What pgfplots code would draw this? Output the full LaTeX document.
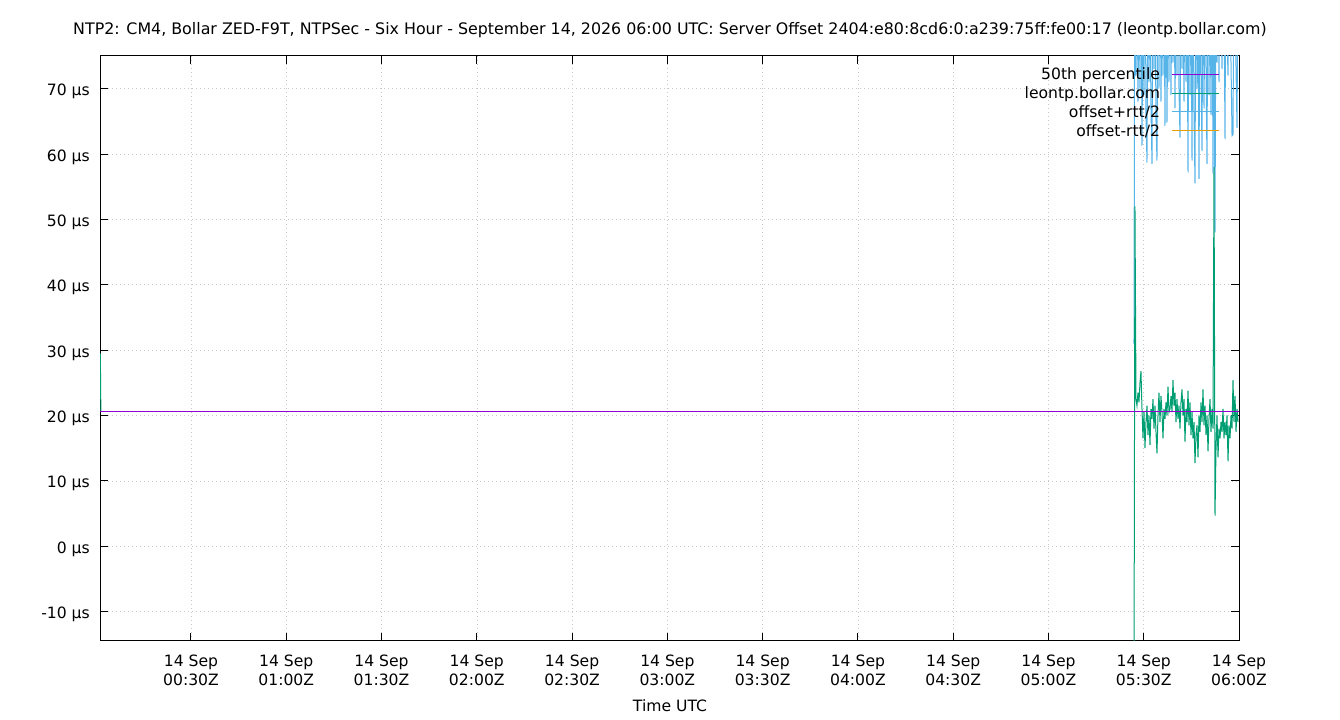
\documentclass[border=0pt]{standalone}
\usepackage{fontspec}
\setmainfont{DejaVu Sans}
\usepackage{pgfplots}
\usepackage{pgfplotstable}
\pgfplotsset{compat=1.18}
\definecolor{cpurple}{HTML}{9400D3}
\definecolor{cgreen}{HTML}{009E73}
\definecolor{cblue}{HTML}{56B4E9}
\definecolor{corange}{HTML}{E69F00}
\definecolor{cgrid}{HTML}{C8C8C8}

\pgfplotstableread{
t g p m
326.93 -22 31 -75
327.24 52 110 -38
327.56 22.5 72 -27
327.87 21.5 95 -52
328.19 23.5 68 -21
328.50 22 88 -44
328.82 25 70 -20
329.13 26.8 92 -38
329.45 21 61.3 -19
329.76 16.5 85 -52
330.08 20.5 69 -28
330.39 15 98 -68
330.71 19 66 -28
331.02 21.5 58.7 -16
331.34 17 90 -56
331.65 20 71 -31
331.97 15.5 84 -53
332.28 21 67 -25
332.60 19.5 58.5 -19.5
332.91 22.5 94 -49
333.23 18 73 -37
333.54 21.5 87 -44
333.86 17.5 65 -30
334.17 14.2 59 -31
334.49 20 91 -51
334.80 23.5 70 -23
335.12 19 96 -58
335.43 23 68 -22
335.75 20.5 83 -42
336.06 16.5 72 -39
336.38 21 89 -47
336.69 19.5 64.3 -25
337.01 22 93 -49
337.32 20 64.8 -25
337.64 24.4 86 -37
337.95 20.5 71 -30
338.27 21 97 -55
338.58 23 69 -23
338.90 20.5 88 -47
339.21 25.4 74 -23
339.53 21.5 92 -49
339.84 23.5 67 -20
340.16 19 85 -47
340.47 22.5 72 -27
340.79 19.5 95 -56
341.10 21.5 70 -27
341.42 18 62.5 -26
341.73 22 90 -46
342.05 24 73 -25
342.36 20 84 -44
342.68 22.5 68 -23
342.99 16 93 -61
343.31 21 71 -29
343.62 19 87 -49
343.94 23.8 57.2 -18
344.25 18.5 96 -59
344.57 22 69 -25
344.88 17 88 -54
345.20 20.5 59 -18
345.51 16.5 91 -58
345.83 19 66 -28
346.14 12.7 55.5 -30
346.46 17 94 -60
346.77 18.5 70 -33
347.09 13.6 85 -58
347.40 20 56.2 -16
347.72 17.5 89 -54
348.03 22 72 -28
348.35 19 60.5 -22.5
348.66 24 92 -44
348.98 18.5 67 -30
349.29 21.5 86 -43
349.61 17 73 -39
349.92 20 58.5 -18.5
350.24 14.5 95 -66
350.55 19.5 69 -30
350.87 22.5 88 -43
351.18 17.5 66 -31
351.50 21 91 -49
351.81 18 57 -21
352.13 58 85 -30
352.44 4.7 48 -38.6
352.76 15 90 -60
353.07 20 74 -34
353.39 13.6 97 -70
353.70 18 71 -35
354.02 16.5 89 -56
354.33 19 80 -42
354.65 17.5 73 -38
354.96 21 93 -51
355.28 16.5 84 -51
355.59 19 62.3 -24
355.91 17 96 -62
356.22 20 78 -38
356.54 13 72 -46
356.85 18.5 90 -53
357.17 16.5 82 -49
357.48 20 74 -34
357.80 18 62.8 -27
358.11 25.4 63 -16
358.43 19 92 -54
358.74 23 85 -39
359.06 17.5 73 -38
359.37 21 64 -22
359.69 19 88 -50
}\datatab

\begin{document}
\fontsize{15.6bp}{19bp}\selectfont
\begin{tikzpicture}
\useasboundingbox (0,0) rectangle (1340bp,720bp);
\begin{axis}[
  at={(100bp,79bp)}, anchor=south west,
  scale only axis, width=1139bp, height=585bp,
  xmin=1.35, xmax=360, ymin=-14.5, ymax=75,
  axis line style={line width=1bp, black},
  tick align=inside, tick pos=both,
  major tick length=8bp,
  every tick/.style={black, line width=1bp},
  xtick={30,60,90,120,150,180,210,240,270,300,330,360},
  xticklabels={{14 Sep\\00:30Z},{14 Sep\\01:00Z},{14 Sep\\01:30Z},{14 Sep\\02:00Z},{14 Sep\\02:30Z},{14 Sep\\03:00Z},{14 Sep\\03:30Z},{14 Sep\\04:00Z},{14 Sep\\04:30Z},{14 Sep\\05:00Z},{14 Sep\\05:30Z},{14 Sep\\06:00Z}},
  xticklabel style={align=center, anchor=north, inner sep=0pt, yshift=-14bp},
  ytick={-10,0,10,20,30,40,50,60,70},
  yticklabels={-10 µs,0 µs,10 µs,20 µs,30 µs,40 µs,50 µs,60 µs,70 µs},
  yticklabel style={anchor=base east, inner sep=0pt, xshift=-10bp, yshift=-7bp},
  grid=major,
  major grid style={cgrid, line width=0.6bp, dash pattern=on 1bp off 3bp},
  legend plot pos=right,
  legend cell align=right,
  legend image code/.code={\draw[#1] (0bp,3bp) -- (47bp,3bp);},
  legend style={at={(rel axis cs:1,1)}, anchor=north east, xshift=-20bp, yshift=-12bp,
    draw=none, fill=none, inner sep=0pt, outer sep=0pt,
    /tikz/column sep=11bp, row sep=0pt,
    nodes={inner sep=0pt, text height=12bp, text depth=6.7bp}},
]
\addplot[cblue, line width=1bp, forget plot] table[x=t, y=p] {\datatab};
\addplot[corange, line width=1bp, forget plot] table[x=t, y=m] {\datatab};
\addplot[cgreen, line width=1bp, forget plot] table[x=t, y=g] {\datatab};
\addplot[cgreen, line width=1bp, forget plot] coordinates {(1.45,29.5) (1.62,20.7)};
\addplot[cpurple, line width=1bp, forget plot] coordinates {(1.35,20.63) (360,20.63)};
\addlegendimage{cpurple, line width=1bp}
\addlegendentry{50th percentile}
\addlegendimage{cgreen, line width=1bp}
\addlegendentry{leontp.bollar.com}
\addlegendimage{cblue, line width=1bp}
\addlegendentry{offset+rtt/2}
\addlegendimage{corange, line width=1bp}
\addlegendentry{offset-rtt/2}
\end{axis}
\node[anchor=base, inner sep=0pt, font=\fontsize{15.85bp}{19bp}\selectfont] at (670bp,685bp) {NTP2: CM4, Bollar ZED-F9T, NTPSec - Six Hour - September 14, 2026 06:00 UTC: Server Offset 2404:e80:8cd6:0:a239:75ff:fe00:17 (leontp.bollar.com)};
\node[anchor=base, inner sep=0pt] at (670bp,8.3bp) {Time UTC};
\end{tikzpicture}
\end{document}
